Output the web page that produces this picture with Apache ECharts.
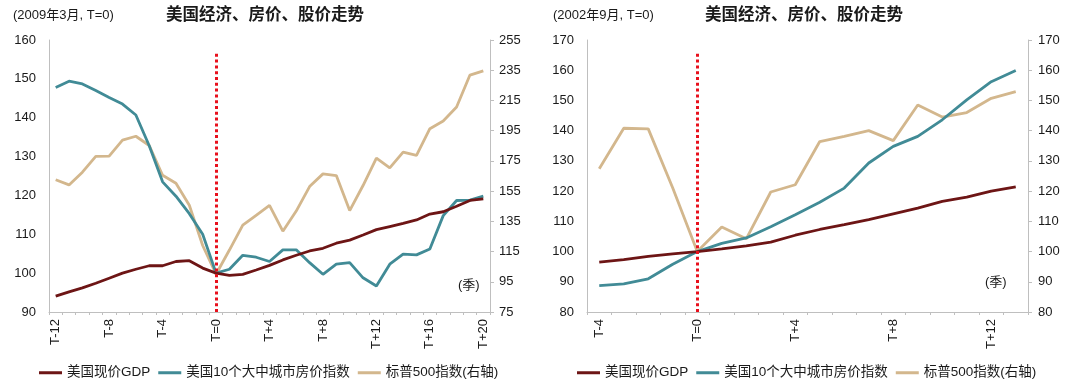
<!DOCTYPE html>
<html>
<head>
<meta charset="utf-8">
<script src="https://cdn.jsdelivr.net/npm/echarts@6/dist/echarts.min.js"></script>
<style>
html,body{margin:0;padding:0;background:#fff;}
#c{width:1080px;height:385px;}
</style>
</head>
<body>
<div id="c"></div>
<script>
// ---------- Data ----------
var seriesNames = ['美国现价GDP', '美国10个大中城市房价指数', '标普500指数(右轴)'];

// Left panel: 2009年3月 = T=0
var leftCats = ['T-12','T-11','T-10','T-9','T-8','T-7','T-6','T-5','T-4','T-3','T-2','T-1','T=0',
  'T+1','T+2','T+3','T+4','T+5','T+6','T+7','T+8','T+9','T+10','T+11','T+12','T+13','T+14',
  'T+15','T+16','T+17','T+18','T+19','T+20'];
var leftGDP = [94.1, 95.2, 96.2, 97.4, 98.7, 100.0, 101.0, 101.9, 101.9, 103.0, 103.2, 101.3, 100,
  99.4, 99.7, 100.8, 102.0, 103.4, 104.6, 105.7, 106.4, 107.7, 108.5, 109.8, 111.2, 112.0, 112.8,
  113.7, 115.2, 115.8, 117.2, 118.7, 119.1];
var leftHouse = [147.8, 149.4, 148.7, 147.0, 145.2, 143.5, 140.7, 132.8, 123.5, 119.8, 115.3, 110.0, 100,
  101.0, 104.6, 104.1, 103.0, 106.0, 106.0, 102.7, 99.7, 102.3, 102.7, 98.8, 96.7, 102.3, 104.9,
  104.7, 106.2, 114.8, 118.7, 118.8, 119.8];
var leftSP = [162.5, 159.1, 167.5, 178.0, 178.2, 188.7, 191.3, 185.2, 165.5, 160.2, 145.6, 119.0, 100,
  116.0, 132.5, 139.0, 145.5, 128.5, 141.8, 158.0, 166.4, 165.3, 142.1, 158.7, 176.9, 170.4, 180.8,
  178.6, 196.3, 201.4, 210.7, 231.8, 234.6];
var leftAxisL = {min: 90, max: 160, interval: 10};
var leftAxisR = {min: 75, max: 255, interval: 20};
var leftMarkTop = 157;

// Right panel: 2002年9月 = T=0
var rightCats = ['T-4','T-3','T-2','T-1','T=0','T+1','T+2','T+3','T+4','T+5','T+6','T+7','T+8',
  'T+9','T+10','T+11','T+12','T+13'];
var rightGDP = [96.5, 97.3, 98.4, 99.2, 100, 100.9, 101.9, 103.1, 105.4, 107.3, 108.9, 110.6, 112.5,
  114.4, 116.6, 118.0, 120.0, 121.4];
var rightHouse = [88.7, 89.3, 91.0, 95.8, 100, 102.7, 104.5, 108.2, 112.2, 116.3, 121.0, 129.3, 134.8,
  138.1, 143.6, 150.2, 156.2, 159.9];
var rightSP = [127.4, 140.8, 140.6, 121.0, 100, 108.1, 104.2, 119.7, 122.1, 136.4, 138.1, 140.0, 136.7,
  148.5, 144.5, 146.0, 150.7, 152.9];
var rightAxisL = {min: 80, max: 170, interval: 10};
var rightAxisR = {min: 80, max: 170, interval: 10};
var rightMarkTop = 165.8;

// ---------- Styles ----------
var FONT = "'Liberation Sans', Arial, 'Noto Sans CJK SC', sans-serif";
var colors = ['#6d1515', '#418b96', '#d3b78d'];
var axisGrey = '#bfbfbf';
var txt = '#1a1a1a';

function xAxisCfg(gridIndex, cats) {
  return {
    type: 'category', gridIndex: gridIndex, data: cats, boundaryGap: true,
    axisLine: {show: true, lineStyle: {color: axisGrey, width: 1}},
    axisTick: {show: true, interval: 0, length: 3, lineStyle: {color: axisGrey}},
    axisLabel: {interval: 3, rotate: 90, margin: 7, fontSize: 13, color: txt, fontFamily: FONT},
    splitLine: {show: false}
  };
}
function yAxisCfg(gridIndex, cfg, pos, margin) {
  return {
    type: 'value', gridIndex: gridIndex, position: pos,
    min: cfg.min, max: cfg.max, interval: cfg.interval,
    axisLine: {show: true, lineStyle: {color: axisGrey, width: 1}},
    axisTick: {show: pos === 'right', length: 4, inside: false, lineStyle: {color: axisGrey}},
    axisLabel: {margin: margin, fontSize: 13, color: txt, fontFamily: FONT},
    splitLine: {show: false}
  };
}
function lineSeries(name, data, xi, yi, color, z) {
  return {
    name: name, type: 'line', data: data, xAxisIndex: xi, yAxisIndex: yi,
    showSymbol: false, symbol: 'none', smooth: false, z: z,
    lineStyle: {color: color, width: 2.8}, itemStyle: {color: color},
    emphasis: {disabled: true}, animation: false
  };
}
function markLineOn(series, yTop, yBottom) {
  series.markLine = {
    silent: true, symbol: 'none', animation: false,
    label: {show: false},
    lineStyle: {color: '#e8101c', width: 3, type: [3, 2.8], cap: 'butt'},
    emphasis: {disabled: true},
    data: [[{coord: ['T=0', yBottom]}, {coord: ['T=0', yTop]}]]
  };
  series.markLine.z = 10;
  return series;
}

var sGDPL = markLineOn(lineSeries(seriesNames[0], leftGDP, 0, 0, colors[0], 4), leftMarkTop, leftAxisL.min);
var sGDPR = markLineOn(lineSeries(seriesNames[0], rightGDP, 1, 2, colors[0], 4), rightMarkTop, rightAxisL.min);

function legendCfg(left) {
  return {
    left: left, top: 366, padding: 0, itemWidth: 23, itemHeight: 3, itemGap: 8, icon: 'rect',
    textStyle: {fontSize: 13.5, color: txt, fontFamily: FONT},
    data: seriesNames, selectedMode: false
  };
}

var option = {
  animation: false,
  backgroundColor: '#fff',
  textStyle: {fontFamily: FONT},
  title: [
    {text: '(2009年3月, T=0)', left: 13, top: 9, padding: 0, textStyle: {fontSize: 13, fontWeight: 'normal', color: txt, fontFamily: FONT}},
    {text: '美国经济、房价、股价走势', left: 166, top: 7, padding: 0, textStyle: {fontSize: 16.5, fontWeight: 'bold', color: txt, fontFamily: FONT}},
    {text: '(2002年9月, T=0)', left: 553, top: 9, padding: 0, textStyle: {fontSize: 13, fontWeight: 'normal', color: txt, fontFamily: FONT}},
    {text: '美国经济、房价、股价走势', left: 705, top: 7, padding: 0, textStyle: {fontSize: 16.5, fontWeight: 'bold', color: txt, fontFamily: FONT}}
  ],
  legend: [legendCfg(39), legendCfg(577)],
  grid: [
    {left: 49, top: 40, width: 441, height: 272},
    {left: 587, top: 40, width: 441, height: 272}
  ],
  xAxis: [xAxisCfg(0, leftCats), xAxisCfg(1, rightCats)],
  yAxis: [
    yAxisCfg(0, leftAxisL, 'left', 13),
    yAxisCfg(0, leftAxisR, 'right', 9),
    yAxisCfg(1, rightAxisL, 'left', 13),
    yAxisCfg(1, rightAxisR, 'right', 10)
  ],
  graphic: [
    {type: 'text', left: 458, top: 279, style: {text: '(季)', fontSize: 13, fill: txt, fontFamily: FONT}},
    {type: 'text', left: 985, top: 276, style: {text: '(季)', fontSize: 13, fill: txt, fontFamily: FONT}}
  ],
  series: [
    lineSeries(seriesNames[2], leftSP, 0, 1, colors[2], 2),
    lineSeries(seriesNames[1], leftHouse, 0, 0, colors[1], 3),
    sGDPL,
    lineSeries(seriesNames[2], rightSP, 1, 3, colors[2], 2),
    lineSeries(seriesNames[1], rightHouse, 1, 2, colors[1], 3),
    sGDPR
  ]
};

var chart = echarts.init(document.getElementById('c'), null, {renderer: 'canvas'});
chart.setOption(option);
</script>
</body>
</html>
